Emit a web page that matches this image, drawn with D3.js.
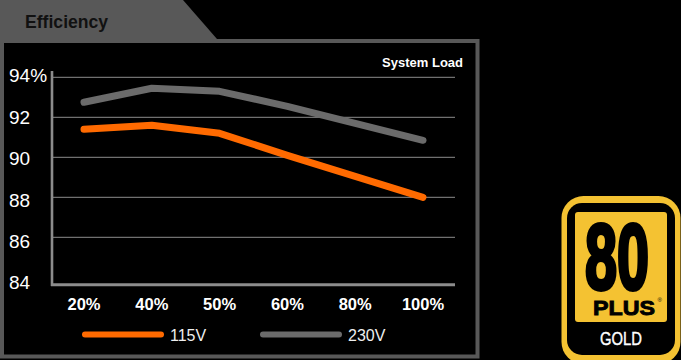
<!DOCTYPE html>
<html><head><meta charset="utf-8">
<script src="https://cdn.jsdelivr.net/npm/d3@7"></script>
<style>
html,body{margin:0;padding:0;background:#000;}
svg{display:block;font-family:"Liberation Sans",Arial,sans-serif;}
</style></head>
<body>
<svg id="c" width="681" height="360"></svg>
<script>
const categories = ["20%","40%","50%","60%","80%","100%"];
const series115 = [91.4, 91.6, 91.2, 90.1, 89.05, 88.0];
const series230 = [92.75, 93.45, 93.3, 92.55, 91.7, 90.85];
const yTicks = [84, 86, 88, 90, 92, 94];
const yTickLabels = ["84","86","88","90","92","94%"];
const seriesNames = ["115V","230V"];
const seriesColors = ["#ff6a00","#6b6b6b"];

const svg = d3.select("#c");
svg.append("rect").attr("width",681).attr("height",360).attr("fill","#000");

// header tab + frame
svg.append("path").attr("d","M0,0 L183,0 L217,39 L0,39 Z").attr("fill","#585858");
svg.append("rect").attr("x",2).attr("y",41).attr("width",475.5).attr("height",315.5)
  .attr("fill","none").attr("stroke","#585858").attr("stroke-width",4);
svg.append("text").attr("x",25).attr("y",28).attr("font-size",17.6).attr("font-weight","bold")
  .attr("fill","#111").text("Efficiency");

const x = d3.scalePoint().domain(categories).range([84, 423]);
const y = d3.scaleLinear().domain([84, 94]).range([277.3, 77.3]);
const yLab = d3.scaleLinear().domain([84, 94]).range([282.5, 75.5]);

// gridlines
svg.append("g").selectAll("line").data(yTicks.filter(d => d > 84)).join("line")
  .attr("x1",53).attr("x2",455).attr("y1",d=>y(d)).attr("y2",d=>y(d))
  .attr("stroke","#8c8c8c").attr("stroke-width",1);
// axes lines
svg.append("line").attr("x1",52).attr("x2",52).attr("y1",71).attr("y2",286)
  .attr("stroke","#8c8c8c").attr("stroke-width",2.6);
svg.append("line").attr("x1",51).attr("x2",455).attr("y1",284.7).attr("y2",284.7)
  .attr("stroke","#8c8c8c").attr("stroke-width",3);

// y labels
svg.append("g").selectAll("text").data(yTicks).join("text")
  .attr("x",9).attr("y",d=>yLab(d)).attr("dy","0.36em")
  .attr("font-size",19).attr("fill","#fff")
  .text((d,i)=>yTickLabels[i]);

// x labels
svg.append("g").selectAll("text").data(categories).join("text")
  .attr("x",d=>x(d)).attr("y",310).attr("text-anchor","middle")
  .attr("font-size",16.5).attr("font-weight","bold").attr("fill","#fff")
  .text(d=>d);

svg.append("text").attr("x",463).attr("y",67).attr("text-anchor","end")
  .attr("font-size",13).attr("font-weight","bold").attr("fill","#fff").text("System Load");

// lines
const line = d3.line().x((d,i)=>x(categories[i])).y(d=>y(d));
[series230, series115].forEach((s, k) => {
  const ci = k === 0 ? 1 : 0;
  svg.append("path").attr("d", line(s)).attr("fill","none")
    .attr("stroke", seriesColors[ci]).attr("stroke-width",7)
    .attr("stroke-linecap","round").attr("stroke-linejoin","round");
});

// legend
const legX = [85, 263];
seriesNames.forEach((n,i) => {
  svg.append("line").attr("x1",legX[i]).attr("x2",legX[i]+76).attr("y1",334.5).attr("y2",334.5)
    .attr("stroke",seriesColors[i]).attr("stroke-width",6).attr("stroke-linecap","round");
  svg.append("text").attr("x",legX[i]+85).attr("y",340.7).attr("font-size",16)
    .attr("fill","#eee").text(n);
});

// 80 PLUS GOLD badge
const gold = "#f4c232";
const b = svg.append("g");
b.append("rect").attr("x",561.5).attr("y",196).attr("width",119).attr("height",168).attr("rx",22).attr("fill",gold);
b.append("rect").attr("x",567).attr("y",203).attr("width",108).attr("height",152).attr("rx",15).attr("fill","#000");
b.append("rect").attr("x",575).attr("y",212).attr("width",92).attr("height",110).attr("rx",3).attr("fill",gold);
b.append("text").attr("transform","translate(617,289) scale(0.62,1)").attr("text-anchor","middle")
  .attr("font-size",93).attr("font-weight","bold").attr("fill","#000")
  .attr("stroke","#000").attr("stroke-width",4).attr("stroke-linejoin","round").text("80");
b.append("text").attr("x",593).attr("y",315).attr("font-size",21).attr("font-weight","bold")
  .attr("fill","#000").attr("textLength",62).attr("lengthAdjust","spacingAndGlyphs")
  .attr("stroke","#000").attr("stroke-width",0.9).text("PLUS");
b.append("text").attr("x",657.5).attr("y",302).attr("font-size",6).attr("fill","#000").text("®");
b.append("text").attr("x",600).attr("y",345).attr("font-size",18.5)
  .attr("fill","#fff").attr("stroke","#fff").attr("stroke-width",0.4)
  .attr("textLength",42).attr("lengthAdjust","spacingAndGlyphs").text("GOLD");
</script>
</body></html>
